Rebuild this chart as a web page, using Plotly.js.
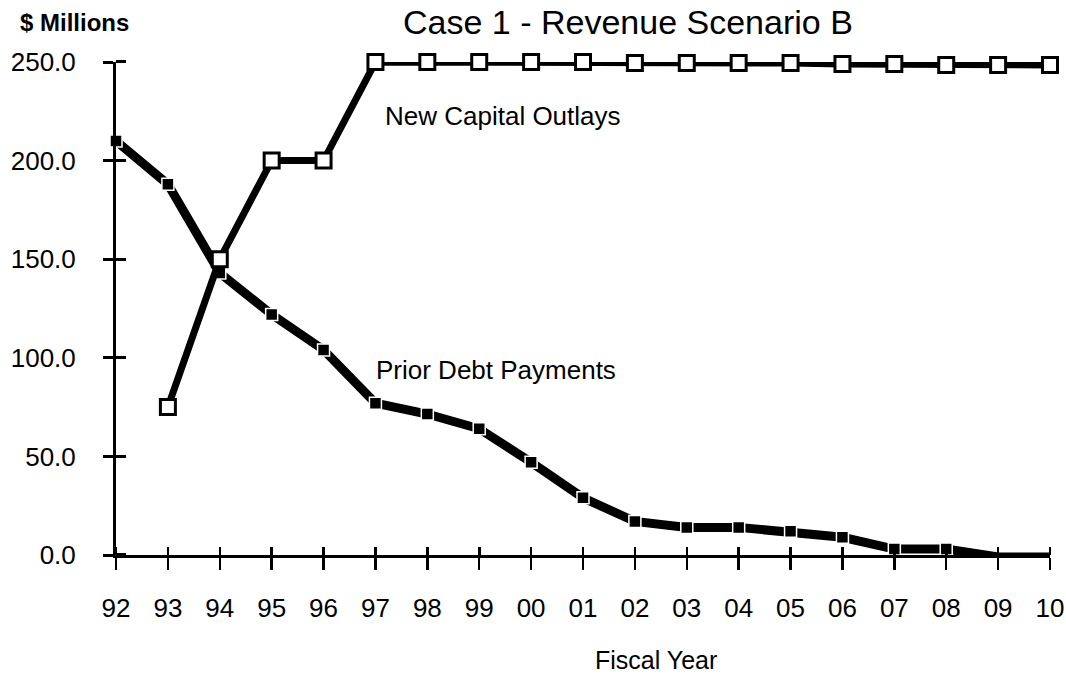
<!DOCTYPE html>
<html>
<head>
<meta charset="utf-8">
<script src="https://cdn.plot.ly/plotly-3.0.1.min.js"></script>
<style>
html,body{margin:0;padding:0;background:#fff;}
#chart{width:1066px;height:678px;}
</style>
</head>
<body>
<div id="chart"></div>
<script>
// Data
const yearLabels = ["92","93","94","95","96","97","98","99","00","01","02","03","04","05","06","07","08","09","10"];
const capitalYears = ["93","94","95","96","97","98","99","00","01","02","03","04","05","06","07","08","09","10"];
const newCapitalOutlays = [75, 150, 200, 200, 250, 250, 250, 250, 250, 249.5, 249.5, 249.5, 249.5, 249, 249, 248.5, 248.5, 248.5];
const priorDebtPayments = [210, 188, 143, 122, 104, 77, 71.5, 64, 47, 29, 17, 14, 14, 12, 9, 3, 3, -1, -1];
const yTickVals = [0, 50, 100, 150, 200, 250];
const yTickText = ["0.0", "50.0", "100.0", "150.0", "200.0", "250.0"];

const idx = lbl => yearLabels.indexOf(lbl);
const xIdx = yearLabels.map((_, i) => i);
// minor ticks (inner half of the cross ticks), nudged negligibly so they are not merged with the major ticks
const xMinor = xIdx.map(v => v + 1e-3);
const yMinor = yTickVals.map(v => v + 1e-2);

const font = "Liberation Sans, Arial, Helvetica, sans-serif";

const traces = [
  {
    x: xIdx, y: priorDebtPayments, type: "scatter", mode: "lines+markers",
    name: "Prior Debt Payments", cliponaxis: false,
    line: {color: "#000", width: 9},
    marker: {symbol: "square", size: 12, color: "#000", line: {color: "#fff", width: 1.5}}
  },
  {
    x: capitalYears.map(idx), y: newCapitalOutlays, type: "scatter", mode: "lines+markers",
    name: "New Capital Outlays", cliponaxis: false,
    line: {color: "#000", width: 7},
    marker: {symbol: "square", size: 15, color: "#fff", line: {color: "#000", width: 3}}
  }
];

const layout = {
  width: 1066, height: 678,
  paper_bgcolor: "#fff", plot_bgcolor: "#fff",
  margin: {l: 116, r: 16, t: 62, b: 123},
  showlegend: false,
  font: {family: font, color: "#000", size: 26},
  xaxis: {
    range: [0, 18], tickvals: xIdx, ticktext: yearLabels,
    showgrid: false, zeroline: false, showline: true, linecolor: "#000", linewidth: 3,
    ticks: "outside", ticklen: 12, tickwidth: 2.5, tickcolor: "#000",
    minor: {tickmode: "array", tickvals: xMinor, ticks: "inside", ticklen: 8, tickwidth: 2.5, tickcolor: "#000", showgrid: false},
    ticklabelstandoff: 16, tickfont: {size: 26, family: font}, fixedrange: true
  },
  yaxis: {
    range: [0, 250], tickvals: yTickVals, ticktext: yTickText,
    showgrid: false, zeroline: false, showline: true, linecolor: "#000", linewidth: 3,
    ticks: "outside", ticklen: 10, tickwidth: 3, tickcolor: "#000",
    minor: {tickmode: "array", tickvals: yMinor, ticks: "inside", ticklen: 10, tickwidth: 3, tickcolor: "#000", showgrid: false},
    ticklabelstandoff: 22, tickfont: {size: 26, family: font}, fixedrange: true
  },
  annotations: [
    {text: "Case 1 - Revenue Scenario B", xref: "paper", yref: "paper", x: 0.5487, y: 1.124,
     xanchor: "center", yanchor: "top", showarrow: false, font: {size: 34, family: font}},
    {text: "<b>$ Millions</b>", xref: "paper", yref: "paper", x: -0.1048, y: 1.081,
     xanchor: "left", yanchor: "middle", showarrow: false, font: {size: 24, family: font}},
    {text: "New Capital Outlays", xref: "paper", yref: "paper", x: 0.2856, y: 0.890,
     xanchor: "left", yanchor: "middle", showarrow: false, font: {size: 26, family: font}},
    {text: "Prior Debt Payments", xref: "paper", yref: "paper", x: 0.276, y: 0.375,
     xanchor: "left", yanchor: "middle", showarrow: false, font: {size: 26, family: font}},
    {text: "Fiscal Year", xref: "paper", yref: "paper", x: 0.5786, y: -0.213,
     xanchor: "center", yanchor: "middle", showarrow: false, font: {size: 25, family: font}}
  ]
};

Plotly.newPlot("chart", traces, layout, {staticPlot: true, displayModeBar: false});
</script>
</body>
</html>
